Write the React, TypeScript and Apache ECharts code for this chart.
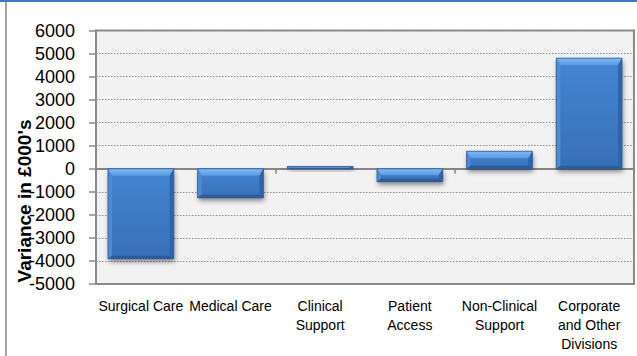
import React, { useEffect, useRef } from "react";
import * as echarts from "echarts";

const categories = [
  "Surgical Care",
  "Medical Care",
  "Clinical\nSupport",
  "Patient\nAccess",
  "Non-Clinical\nSupport",
  "Corporate\nand Other\nDivisions",
];
const variances = [-3900, -1260, 100, -560, 760, 4800];
const yMin = -5000;
const yMax = 6000;
const yStep = 1000;
const yTitle = "Variance in £000's";

export default function App() {
  const ref = useRef<HTMLDivElement>(null);
  useEffect(() => {
    if (!ref.current) return;
    const chart = echarts.init(ref.current, null, { renderer: "svg" });
    const data = categories.map((_, i) => [i, variances[i]]);
    const option: any = {
      animation: false,
      backgroundColor: "#ffffff",
      grid: {
        left: 96,
        top: 30.5,
        right: 3,
        bottom: 72,
        show: true,
        backgroundColor: "#f2f2f2",
        borderColor: "#8a8a8a",
        borderWidth: 2,
      },
      graphic: [
        { type: "rect", shape: { x: 0, y: 0, width: 637, height: 2 }, style: { fill: "#3a7abf" } },
        { type: "rect", shape: { x: 5, y: 2, width: 2, height: 354 }, style: { fill: "#a3a3a3" } },
        {
          type: "text",
          x: 24,
          y: 201,
          rotation: Math.PI / 2,
          style: {
            text: yTitle,
            font: "bold 19px 'Liberation Sans', Arial, sans-serif",
            fill: "#000",
            align: "center",
            verticalAlign: "middle",
          },
          z: 100,
        },
      ],
      xAxis: [
        {
          type: "category",
          data: categories,
          position: "bottom",
          axisLine: { show: false, onZero: false },
          axisTick: { show: false },
          axisLabel: {
            interval: 0,
            margin: 12,
            color: "#000",
            fontSize: 14,
            lineHeight: 19,
            fontFamily: "'Liberation Sans', Arial, sans-serif",
            verticalAlign: "top",
          },
        },
        {
          type: "category",
          data: categories,
          position: "bottom",
          axisLine: { show: true, onZero: true, lineStyle: { color: "#868686", width: 2 } },
          axisTick: { show: true, length: 5, lineStyle: { color: "#868686", width: 1.5 } },
          axisLabel: { show: false },
        },
      ],
      yAxis: {
        type: "value",
        min: yMin,
        max: yMax,
        interval: yStep,
        axisLine: { show: true, lineStyle: { color: "#8a8a8a", width: 2 } },
        axisTick: { show: true, length: 7, lineStyle: { color: "#8a8a8a", width: 1.5 } },
        axisLabel: {
          margin: 21,
          color: "#000",
          fontSize: 18,
          fontFamily: "'Liberation Sans', Arial, sans-serif",
          formatter: (v: number) => String(v),
        },
        splitLine: { show: true, lineStyle: { color: "#8c8c8c", width: 1, type: [1.5, 1.5] } },
      },
      series: [
        {
          type: "custom",
          xAxisIndex: 0,
          yAxisIndex: 0,
          encode: { x: 0, y: 1 },
          data,
          z: 10,
          renderItem: (params: any, api: any) => {
            const idx = api.value(0);
            const val = api.value(1);
            const p0 = api.coord([idx, 0]);
            const p1 = api.coord([idx, val]);
            const bw = api.size([1, 0])[0] * 0.733;
            const x = p0[0] - bw / 2;
            const top = Math.min(p0[1], p1[1]);
            const h = Math.max(Math.abs(p1[1] - p0[1]), 1.5);
            const w = bw;
            const b = Math.min(7, h / 2);
            const b2 = Math.min(3, h / 3);
            const s = Math.min(4, w / 2);
            return {
              type: "group",
              children: [
                {
                  type: "rect",
                  shape: { x, y: top, width: w, height: h },
                  style: {
                    fill: new echarts.graphic.LinearGradient(0, 0, 0, 1, [
                      { offset: 0, color: "#4485d3" },
                      { offset: 1, color: "#386fb6" },
                    ]),
                    shadowColor: "rgba(0,0,0,0.45)",
                    shadowBlur: 5,
                    shadowOffsetX: 1,
                    shadowOffsetY: 3,
                  },
                },
                {
                  type: "polygon",
                  shape: { points: [[x, top], [x + w, top], [x + w - s, top + b], [x + s, top + b]] },
                  style: {
                    fill: new echarts.graphic.LinearGradient(0, 0, 0, 1, [
                      { offset: 0, color: "#82bbf4" },
                      { offset: 1, color: "#5a99e2" },
                    ]),
                  },
                },
                {
                  type: "polygon",
                  shape: { points: [[x, top], [x + s, top + b], [x + s, top + h - b2], [x, top + h]] },
                  style: { fill: "#4d8bd6" },
                },
                {
                  type: "polygon",
                  shape: { points: [[x + w, top], [x + w - s, top + b], [x + w - s, top + h - b2], [x + w, top + h]] },
                  style: { fill: "#2f64a8" },
                },
                {
                  type: "polygon",
                  shape: { points: [[x + s, top + h - b2], [x + w - s, top + h - b2], [x + w, top + h], [x, top + h]] },
                  style: { fill: "#2b5b9c" },
                },
                {
                  type: "rect",
                  shape: { x, y: top, width: w, height: h },
                  style: { fill: "none", stroke: "#2d5a95", lineWidth: 0.8 },
                },
              ],
            };
          },
        },
      ],
    };
    chart.setOption(option);
    return () => chart.dispose();
  }, []);
  return (
    <div
      ref={ref}
      style={{ position: "fixed", left: 0, top: 0, width: 637, height: 356, background: "#fff" }}
    />
  );
}
